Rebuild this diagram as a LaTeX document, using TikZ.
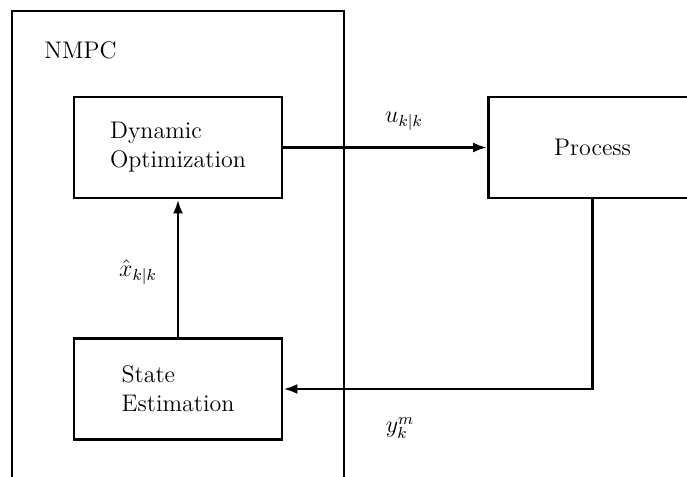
\documentclass[tikz,border=0pt]{standalone}
\usetikzlibrary{arrows.meta}
\begin{document}
\begin{tikzpicture}[x=0.5pt,y=-0.5pt,line width=1.4pt,
  font=\fontsize{12}{14.4}\selectfont,
  block/.style={draw,rectangle,minimum width=104pt,minimum height=50.5pt,align=left,inner sep=0pt},
  flow/.style={-{Latex[length=7pt,width=5pt]}},
  sig/.style={inner sep=0pt}]
\useasboundingbox (0,0) rectangle (687,477);
\clip (0,0) rectangle (687,477);
% controller frame, open at the bottom
\draw (12,500) -- (12,11) -- (344,11) -- (344,500);
\node[sig,anchor=base west] (nmpc) at (43,58) {NMPC};
% blocks
\node[block] (opt) at (178,147.5) {Dynamic\\Optimization};
\node[block] (est) at (178,389) {State\\Estimation};
\node[block] (proc) at (592.5,147.5) {Process};
% signal paths
\draw[flow] (opt.east) -- (proc.west);
\draw[flow] (proc.south) |- (est.east);
\draw[flow] (est.north) -- (opt.south);
% signal labels
\node[sig] (u) at (404,121) {$u_{k|k}$};
\node[sig] (x) at (138,272) {$\hat{x}_{k|k}$};
\node[sig] (y) at (400,428) {$y_k^m$};
\end{tikzpicture}
\end{document}
